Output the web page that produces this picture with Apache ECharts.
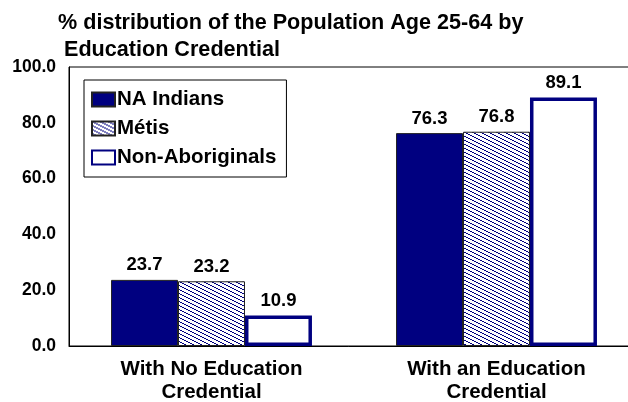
<!DOCTYPE html>
<html><head><meta charset="utf-8">
<script src="https://cdn.jsdelivr.net/npm/echarts@6/dist/echarts.min.js"></script>
<style>html,body{margin:0;padding:0;background:#fff}#c{width:628px;height:402px}</style>
</head><body><div id="c"></div>
<script>
var categories = ['With No Education\nCredential', 'With an Education\nCredential'];
var naIndians = [23.7, 76.3];
var metis = [23.2, 76.8];
var nonAboriginals = [10.9, 89.1];
var yTicks = [0, 20, 40, 60, 80, 100];

var NAVY = '#000080';
function makePattern() {
  var c = document.createElement('canvas');
  c.width = 8; c.height = 8;
  var g = c.getContext('2d');
  g.fillStyle = '#fff'; g.fillRect(0, 0, 8, 8);
  g.fillStyle = NAVY;
  for (var y = 0; y < 8; y++) {
    for (var x = 0; x < 8; x++) {
      var v = ((x >> 1) - y + 16) % 4;
      if (v === 0) g.fillRect(x, y, 1, 1);
    }
  }
  return c;
}
var pat = makePattern();
var FONT = 'Liberation Sans, Arial, sans-serif';
var lbl = {show: true, position: 'top', distance: 5, color: '#000', fontWeight: 'bold', fontSize: 18.5, fontFamily: FONT,
  formatter: function (p) { return p.value.toFixed(1); }};

var chart = echarts.init(document.getElementById('c'), null, {renderer: 'canvas'});
chart.setOption({
  animation: false,
  backgroundColor: '#fff',
  title: {
    text: '% distribution of the Population Age 25-64 by\n Education Credential',
    left: 53, top: 5,
    textStyle: {fontFamily: FONT, fontWeight: 'bold', fontSize: 21.6, color: '#000', lineHeight: 27}
  },
  legend: {
    orient: 'vertical', left: 84, top: 80,
    borderColor: '#000', borderWidth: 1, backgroundColor: '#fff',
    padding: [9, 10, 9, 7],
    icon: 'rect',
    itemGap: 8, itemWidth: 23, itemHeight: 14,
    textStyle: {fontFamily: FONT, fontWeight: 'bold', fontSize: 20.5, color: '#000', lineHeight: 21, padding: [0, 0, 0, -3]},
    data: ['NA Indians', 'Métis', 'Non-Aboriginals']
  },
  grid: {left: 69, top: 67, width: 570, bottom: 56, show: true, borderColor: '#000', borderWidth: 1,
    containLabel: false, outerBoundsMode: 'none'},
  xAxis: {
    type: 'category', data: categories,
    axisTick: {show: false},
    axisLine: {lineStyle: {color: '#000'}},
    axisLabel: {color: '#000', fontWeight: 'bold', fontSize: 20.5, fontFamily: FONT, lineHeight: 23, margin: 12}
  },
  yAxis: {
    type: 'value', min: yTicks[0], max: yTicks[yTicks.length - 1], interval: 20,
    splitLine: {show: false},
    axisLine: {show: true, lineStyle: {color: '#000'}},
    axisTick: {show: false},
    axisLabel: {color: '#000', fontWeight: 'bold', fontSize: 17.5, fontFamily: FONT, margin: 13,
      formatter: function (v) { return v.toFixed(1); }}
  },
  series: [
    {name: 'NA Indians', type: 'bar', data: naIndians, barGap: '0%', barCategoryGap: '29.5%',
      itemStyle: {color: NAVY, borderColor: '#222', borderWidth: 1}, label: lbl},
    {name: 'Métis', type: 'bar', data: metis,
      itemStyle: {color: {image: pat, repeat: 'repeat'}, borderColor: '#222', borderWidth: 1}, label: lbl},
    {name: 'Non-Aboriginals', type: 'bar', data: nonAboriginals,
      itemStyle: {color: '#fff', borderColor: NAVY, borderWidth: 3.5}, label: lbl}
  ]
});
</script></body></html>
